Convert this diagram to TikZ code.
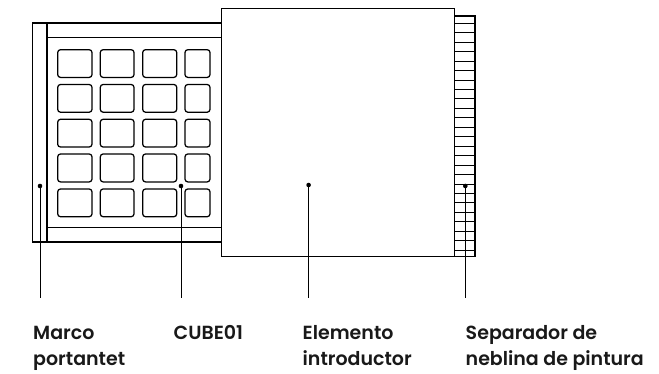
\documentclass[tikz,border=0pt]{standalone}
\usepackage{fontspec}
\setmainfont{Poppins SemiBold}
\tikzset{
  px/.style={x=1bp,y=-1bp},
  ln/.style={draw=black,line width=1.25bp},
  thin ln/.style={draw=black,line width=0.9bp},
  tile/.style={draw=black,line width=1.25bp,rounded corners=2.8bp},
  dotmark/.style={circle,fill=black,inner sep=0pt,minimum size=4.6bp},
  lab/.style={anchor=base west,inner sep=0pt,font=\fontsize{19bp}{26bp}\selectfont,text=black!90},
}
\begin{document}
\begin{tikzpicture}[px]
\useasboundingbox (0,0) rectangle (659,373);
% carrier frame
\draw[ln] (32.7,23) rectangle (221.5,242);
\draw[ln] (47,23) -- (47,242);
\draw[thin ln] (47,37.5) -- (221.5,37.5);
\draw[thin ln] (47,227.3) -- (221.5,227.3);
% tiles
\foreach \ya/\yb in {49.7/77.4,84.5/112.2,119.3/147,154/181.9,189/216.7}{
  \foreach \xa/\xb in {57.7/92,100.3/134,142.7/176.7,185/210}{
    \draw[tile] (\xa,\ya) rectangle (\xb,\yb);
  }
}
% hatched separator
\draw[ln] (454.5,16) rectangle (475,256.3);
\foreach \k in {0,...,24}{
  \draw[thin ln] (454.5,23.3+9.45*\k) -- (475,23.3+9.45*\k);
}
% introducer
\draw[ln] (221.5,8.5) rectangle (454.5,256.3);
% leaders
\node[dotmark] (d1) at (40,186) {};
\node[dotmark] (d2) at (181,186) {};
\node[dotmark] (d3) at (308.6,185) {};
\node[dotmark] (d4) at (465.3,186) {};
\coordinate (e1) at (40,298);
\coordinate (e2) at (181,298);
\coordinate (e3) at (308.6,298);
\coordinate (e4) at (465.3,298);
\foreach \i in {1,2,3,4}{ \draw[thin ln] (d\i.center) -- (e\i); }
% labels
\node[lab] (l1a) at (33,339) {Marco};
\node[lab] (l1b) at (33,365) {portantet};
\node[lab] (l2a) at (173.5,339) {CUBE01};
\node[lab] (l3a) at (302.5,339) {Elemento};
\node[lab] (l3b) at (302.5,365) {introductor};
\node[lab] (l4a) at (465.5,339) {Separador de};
\node[lab] (l4b) at (465.5,365) {neblina de pintura};
\end{tikzpicture}
\end{document}
